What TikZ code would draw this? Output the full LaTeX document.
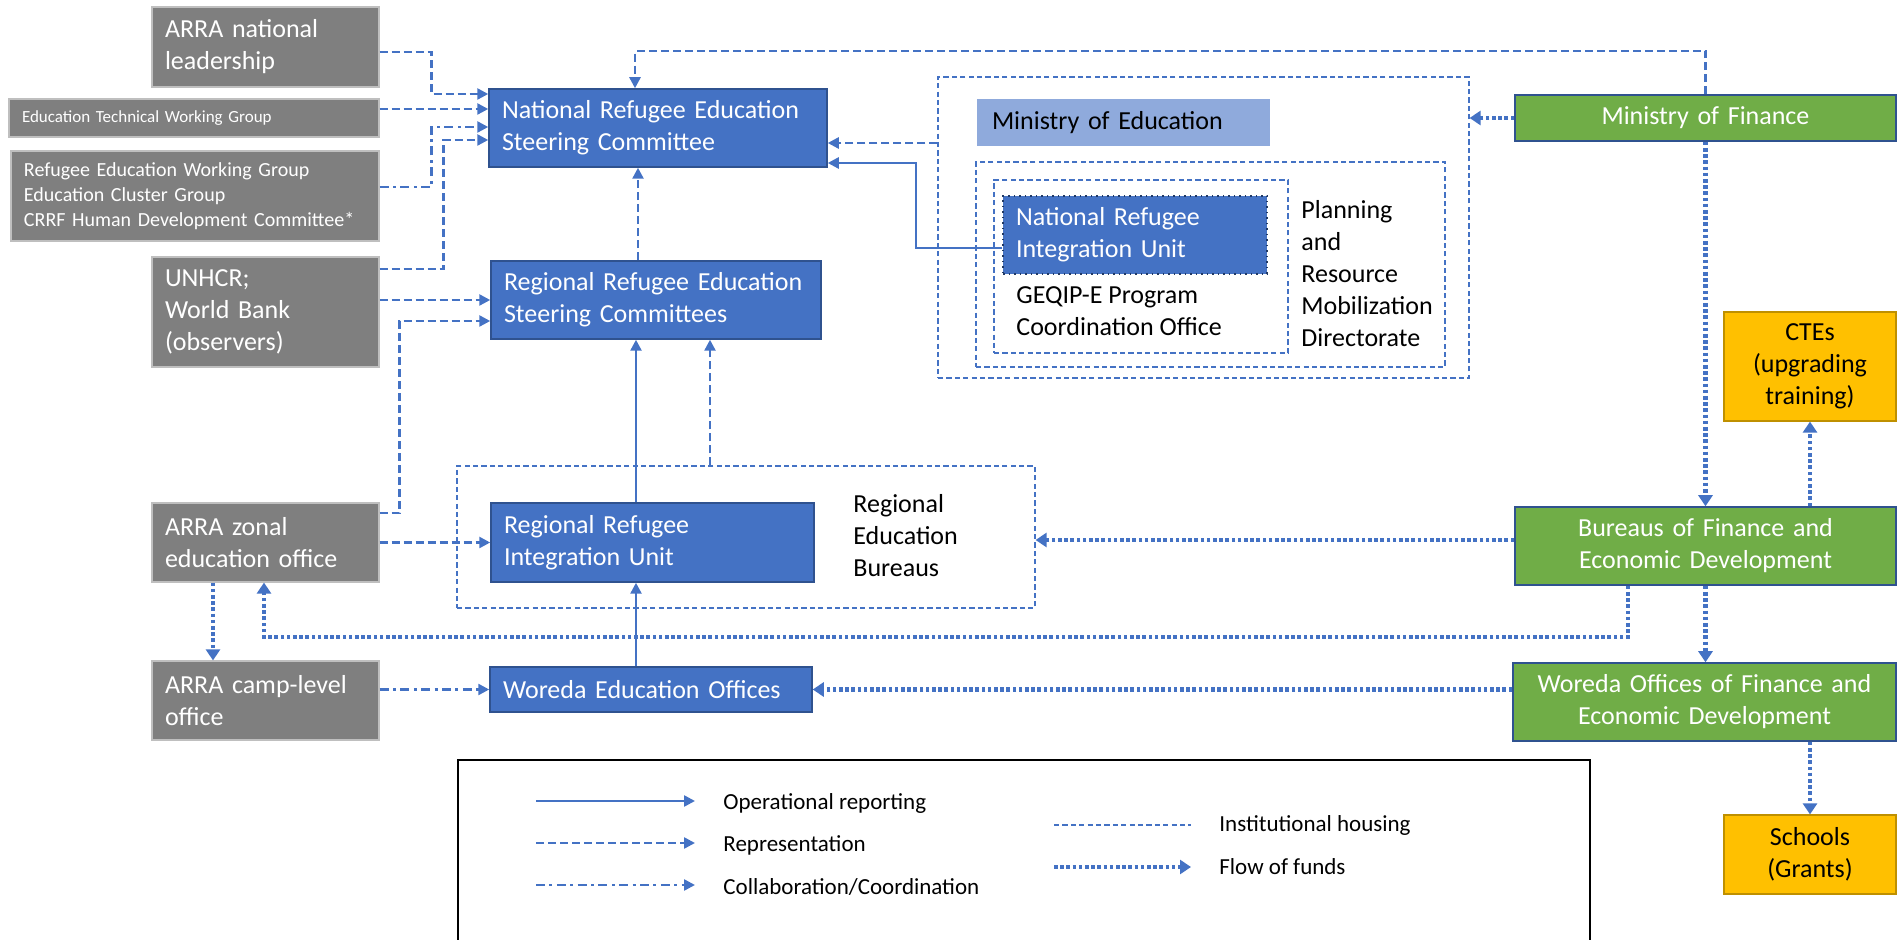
\documentclass[tikz,border=0pt]{standalone}
\usepackage{fontspec}
\setmainfont{Carlito}
\usetikzlibrary{arrows.meta}

\definecolor{boxgray}{HTML}{7F7F7F}
\definecolor{boxblue}{HTML}{4472C4}
\definecolor{edgeblue}{HTML}{2F528F}
\definecolor{boxgreen}{HTML}{70AD47}
\definecolor{boxgold}{HTML}{FFC000}
\definecolor{edgegold}{HTML}{BF9000}
\definecolor{lightblue}{HTML}{8FAADC}
\definecolor{linkblue}{HTML}{4472C4}

\begin{document}
\begin{tikzpicture}[x=0.5pt, y=-0.5pt,
    box/.style={rectangle, inner xsep=6.5pt, inner ysep=0pt, font=\fontsize{13}{16}\selectfont},
    graybox/.style={box, fill=boxgray, draw=black!25, line width=0.6pt, text=white, align=left},
    bluebox/.style={box, fill=boxblue, draw=edgeblue, line width=0.75pt, text=white, align=left},
    greenbox/.style={box, fill=boxgreen, draw=edgeblue, line width=0.75pt, text=white, align=center},
    goldbox/.style={box, fill=boxgold, draw=edgegold, line width=0.6pt, text=black, align=center},
    house/.style={rectangle, draw=linkblue, line width=0.6pt, dash pattern=on 2.6pt off 1.6pt, inner sep=0pt},
    freetext/.style={anchor=west, inner sep=0pt, align=left, font=\fontsize{13}{16}\selectfont},
    oper/.style={draw=linkblue, line width=1.25pt, -{Triangle[length=5.5pt,width=5.5pt]}},
    rep/.style={oper, dash pattern=on 4pt off 2pt},
    coll/.style={oper, dash pattern=on 4.5pt off 2.2pt on 1.5pt off 2.2pt},
    fund/.style={draw=linkblue, line width=2.2pt, dash pattern=on 1.8pt off 1.3pt, -{Triangle[length=5.5pt,width=7pt]}},
    legtext/.style={anchor=west, inner sep=0pt, font=\fontsize{11.5}{14}\selectfont}]
        \useasboundingbox (0,0) rectangle (1902,940);

        \node[graybox, text width=100.5pt, minimum height=40pt] (natlead) at (265.5,47) {ARRA national\\leadership};
        \node[graybox, text width=172pt, minimum height=19pt, font=\fontsize{8.5}{10}\selectfont] (etwg) at (194,118) {Education Technical Working Group};
        \node[graybox, text width=171pt, minimum height=45pt, font=\fontsize{10}{12.5}\selectfont] (rewg) at (195,196) {Refugee Education Working Group\\Education Cluster Group\\CRRF Human Development Committee*};
        \node[graybox, text width=100.5pt, minimum height=55pt] (unhcr) at (265.5,312) {UNHCR;\\World Bank\\(observers)};
        \node[graybox, text width=100.5pt, minimum height=39.5pt] (zonal) at (265.5,542.5) {ARRA zonal\\education office};
        \node[graybox, text width=100.5pt, minimum height=39.5pt] (camp) at (265.5,700.5) {ARRA camp-level\\office};

        \node[bluebox, text width=156pt, minimum height=39pt] (nresc) at (658,128) {National Refugee Education\\Steering Committee};
        \node[bluebox, text width=152pt, minimum height=39pt] (rresc) at (656,300) {Regional Refugee Education\\Steering Committees};
        \node[house, minimum width=289pt, minimum height=71pt] (reb) at (746,537) {};
        \node[bluebox, text width=148.5pt, minimum height=39.5pt] (rriu) at (652.5,542.5) {Regional Refugee\\Integration Unit};
        \node[freetext] (rebtext) at (853,536) {Regional\\Education\\Bureaus};
        \node[bluebox, text width=148pt, minimum height=22.5pt] (woredaed) at (651,689.5) {Woreda Education Offices};

        \node[house, minimum width=265.5pt, minimum height=150.5pt] (moe) at (1203.5,227.5) {};
        \node[box, fill=lightblue, inner xsep=7.5pt, text width=131.5pt, minimum height=23.5pt, align=left] (moelabel) at (1123.5,122.5) {Ministry of Education};
        \node[house, minimum width=234.5pt, minimum height=102.5pt] (prmd) at (1210.5,264.5) {};
        \node[house, minimum width=147pt, minimum height=86.5pt] (pco) at (1141,266.5) {};
        \node[bluebox, draw=edgeblue!70!black, dotted, text width=119pt, minimum height=39pt] (nriu) at (1135,235) {National Refugee\\Integration Unit};
        \node[freetext] (pcotext) at (1016,311) {GEQIP-E Program\\Coordination Office};
        \node[freetext] (prmdtext) at (1301,274) {Planning\\and\\Resource\\Mobilization\\Directorate};

        \node[greenbox, text width=177.5pt, minimum height=23pt] (mof) at (1705.5,118) {Ministry of Finance};
        \node[goldbox, text width=73pt, minimum height=54.5pt] (ctes) at (1810,366.5) {CTEs\\(upgrading\\training)};
        \node[greenbox, text width=177.5pt, minimum height=39pt] (bofed) at (1705.5,546) {Bureaus of Finance and\\Economic Development};
        \node[greenbox, text width=178.5pt, minimum height=39pt] (wofed) at (1704.5,702) {Woreda Offices of Finance and\\Economic Development};
        \node[goldbox, text width=73pt, minimum height=39.5pt] (schools) at (1810,854.5) {Schools\\(Grants)};

        \draw[rep] ([yshift=-2.5pt]natlead.east) -| ([xshift=-28.5pt,yshift=17pt]nresc.west) -- ([yshift=17pt]nresc.west);
        \draw[rep] ([yshift=4.5pt]etwg.east) -- ([yshift=4.5pt]nresc.west |- etwg.east);
        \draw[coll] ([yshift=4.5pt]rewg.east) -| ([xshift=-28.5pt,yshift=0.5pt]nresc.west) -- ([yshift=0.5pt]nresc.west);
        \draw[rep] ([yshift=21.5pt]unhcr.east) -| ([xshift=-22.5pt,yshift=-6pt]nresc.west) -- ([yshift=-6pt]nresc.west);
        \draw[rep] ([yshift=6pt]unhcr.east) -- (rresc.west);
        \draw[rep] ([yshift=14.75pt]zonal.east) -| ([xshift=-45.5pt,yshift=-10.5pt]rresc.west) -- ([yshift=-10.5pt]rresc.west);
        \draw[rep] (zonal.east) -- (rriu.west);
        \draw[coll] (camp.east |- woredaed.west) -- (woredaed.west);
        \draw[rep] ([xshift=-9pt]rresc.north) -- ([xshift=-10pt]nresc.south);
        \draw[oper] ([xshift=-8.25pt]rriu.north) -- ([xshift=-10pt]rresc.south);
        \draw[oper] ([xshift=-7.5pt]woredaed.north) -- ([xshift=-8.25pt]rriu.south);
        \draw[rep] ([xshift=-18pt]reb.north) -- ([xshift=27pt]rresc.south);
        \draw[rep] ([yshift=42.25pt]moe.west) -- ([yshift=-7.5pt]nresc.east);
        \draw[oper] ([yshift=-6.5pt]nriu.west) -| ([xshift=44pt,yshift=-17.5pt]nresc.east) -- ([yshift=-17.5pt]nresc.east);
        \draw[rep] (mof.north) |- ([xshift=-11.5pt,yshift=18.5pt]nresc.north) -- ([xshift=-11.5pt]nresc.north);

        \draw[fund] (mof.west) -- (mof.west -| moe.east);
        \draw[fund] (mof.south) -- (bofed.north);
        \draw[fund] (bofed.north -| ctes.south) -- (ctes.south);
        \draw[fund] ([yshift=3pt]bofed.west) -- ([yshift=3pt]bofed.west -| reb.east);
        \draw[fund] (bofed.south) -- (bofed.south |- wofed.north);
        \coordinate (fundbend) at (264,637);
        \draw[fund] ([xshift=-38.75pt]bofed.south) |- (fundbend) -- (fundbend |- zonal.south);
        \draw[fund] ([xshift=-26.25pt]zonal.south) -- ([xshift=-26.25pt]camp.north);
        \draw[fund] (wofed.west |- woredaed.east) -- (woredaed.east);
        \draw[fund] (wofed.south -| schools.north) -- (schools.north);

        \draw[line width=0.8pt] (458,941) |- (1590,760) -- (1590,941);
        \node[legtext] (lop) at (723,803) {Operational reporting};
        \node[legtext] (lrep) at (723,845) {Representation};
        \node[legtext] (lcol) at (723,887) {Collaboration/Coordination};
        \node[legtext] (lhouse) at (1219,825) {Institutional housing};
        \node[legtext] (lfund) at (1219,867) {Flow of funds};
        \draw[oper] ([xshift=-93.5pt,yshift=1pt]lop.west) -- ([xshift=-14pt,yshift=1pt]lop.west);
        \draw[rep] ([xshift=-93.5pt,yshift=1pt]lrep.west) -- ([xshift=-14pt,yshift=1pt]lrep.west);
        \draw[coll] ([xshift=-93.5pt,yshift=1pt]lcol.west) -- ([xshift=-14pt,yshift=1pt]lcol.west);
        \draw[house] ([xshift=-82.5pt]lhouse.west) -- ([xshift=-14pt]lhouse.west);
        \draw[fund] ([xshift=-82.5pt]lfund.west) -- ([xshift=-14pt]lfund.west);
    \end{tikzpicture}
\end{document}
